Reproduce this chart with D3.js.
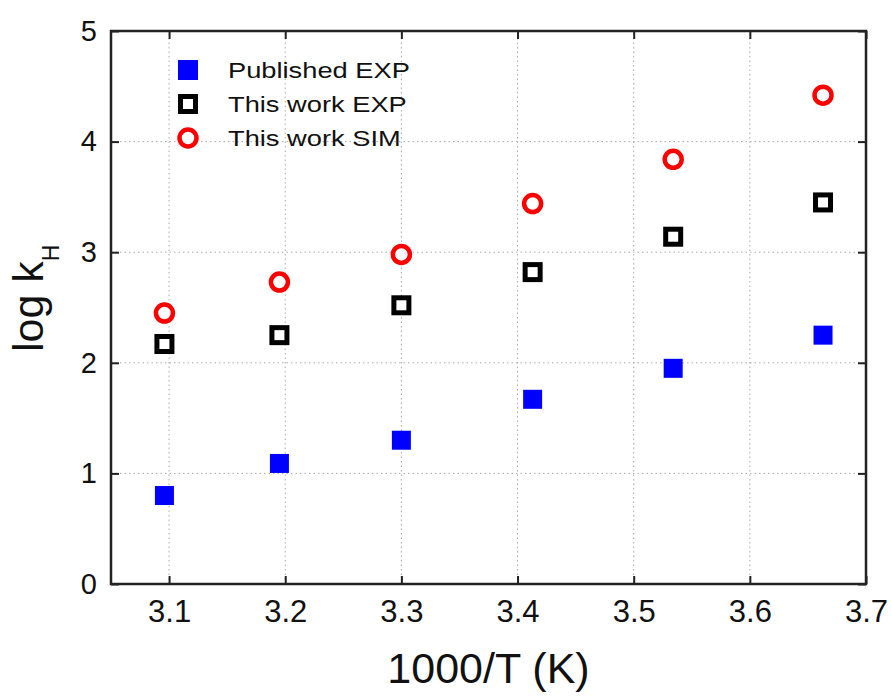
<!DOCTYPE html>
<meta charset="utf-8">
<style>
body { margin: 0; background: #fff; }
text { font-family: "Liberation Sans", Arial, sans-serif; fill: #111; }
.grid line { stroke: #aaa; stroke-width: 1px; stroke-dasharray: 1.5, 3; }
</style>
<body>
<script src="https://d3js.org/d3.v7.min.js"></script>
<script>
// 1000/T values
var invT = [3.096, 3.195, 3.300, 3.413, 3.534, 3.663];
var publishedExp = [0.80, 1.09, 1.30, 1.67, 1.95, 2.25];
var thisWorkExp = [2.17, 2.25, 2.52, 2.82, 3.14, 3.45];
var thisWorkSim = [2.45, 2.73, 2.98, 3.44, 3.84, 4.42];
var xTicks = [3.1, 3.2, 3.3, 3.4, 3.5, 3.6, 3.7];
var yTicks = [0, 1, 2, 3, 4, 5];
var seriesNames = ["Published EXP", "This work EXP", "This work SIM"];

var width = 891, height = 697;
var margin = {top: 31, right: 25, bottom: 113, left: 111};

var svg = d3.select("body").append("svg")
    .attr("width", width)
    .attr("height", height);

var x = d3.scaleLinear().domain([3.05, 3.7]).range([margin.left, width - margin.right]);
var y = d3.scaleLinear().domain([0, 5]).range([height - margin.bottom, margin.top]);

var x0 = x.range()[0], x1 = x.range()[1], y0 = y.range()[0], y1 = y.range()[1];

// grid
var grid = svg.append("g").attr("class", "grid");
grid.selectAll(".gx")
    .data(xTicks.filter(function(d) { return d < 3.7; }))
  .enter().append("line")
    .attr("x1", function(d) { return x(d); }).attr("x2", function(d) { return x(d); })
    .attr("y1", y0).attr("y2", y1);
grid.selectAll(".gy")
    .data(yTicks.filter(function(d) { return d > 0 && d < 5; }))
  .enter().append("line")
    .attr("y1", function(d) { return y(d); }).attr("y2", function(d) { return y(d); })
    .attr("x1", x0).attr("x2", x1);

// axes, ticks pointing inward on all four sides
var tick = 8;
var gx = svg.append("g").attr("transform", "translate(0," + y0 + ")")
    .call(d3.axisBottom(x).tickValues(xTicks).tickSize(-tick).tickPadding(16).tickFormat(d3.format(".1f")));
svg.append("g").attr("transform", "translate(0," + y1 + ")")
    .call(d3.axisTop(x).tickValues(xTicks).tickSize(-tick).tickFormat(""));
var gy = svg.append("g").attr("transform", "translate(" + x0 + ",0)")
    .call(d3.axisLeft(y).tickValues(yTicks).tickSize(-tick).tickPadding(14).tickFormat(d3.format("d")));
svg.append("g").attr("transform", "translate(" + x1 + ",0)")
    .call(d3.axisRight(y).tickValues(yTicks).tickSize(-tick).tickFormat(""));

svg.selectAll(".domain").remove();
svg.selectAll(".tick line").attr("stroke", "#222").attr("stroke-width", 2);
gx.selectAll(".tick text").style("font-size", "31px").attr("fill", "#111");
gy.selectAll(".tick text").style("font-size", "29px").attr("fill", "#111");

svg.append("rect")
    .attr("x", x0).attr("y", y1)
    .attr("width", x1 - x0).attr("height", y0 - y1)
    .attr("fill", "none").attr("stroke", "#222").attr("stroke-width", 2.5);

// axis titles
svg.append("text")
    .attr("x", (x0 + x1) / 2).attr("y", 683)
    .attr("text-anchor", "middle")
    .style("font-size", "43px")
    .text("1000/T (K)");

var yl = svg.append("text")
    .attr("transform", "translate(43,352)rotate(-90)")
    .attr("text-anchor", "start")
    .style("font-size", "43px");
yl.append("tspan").text("log k");
yl.append("tspan").attr("dy", 16).style("font-size", "23px").text("H");

// markers
var size = 19;
svg.append("g").selectAll("rect")
    .data(invT)
  .enter().append("rect")
    .attr("x", function(d) { return x(d) - size / 2; })
    .attr("y", function(d, i) { return y(publishedExp[i]) - size / 2; })
    .attr("width", size).attr("height", size)
    .attr("fill", "#0000ff");

svg.append("g").selectAll("rect")
    .data(invT)
  .enter().append("rect")
    .attr("x", function(d) { return x(d) - 7.5; })
    .attr("y", function(d, i) { return y(thisWorkExp[i]) - 7.5; })
    .attr("width", 15).attr("height", 15)
    .attr("fill", "#fff").attr("stroke", "#000").attr("stroke-width", 5);

svg.append("g").selectAll("circle")
    .data(invT)
  .enter().append("circle")
    .attr("cx", function(d) { return x(d); })
    .attr("cy", function(d, i) { return y(thisWorkSim[i]); })
    .attr("r", 8.5)
    .attr("fill", "#fff").attr("stroke", "#ff0000").attr("stroke-width", 4.5);

// legend
var lg = svg.append("g").attr("transform", "translate(188,70)");
var row = 34;
lg.append("rect").attr("x", -10).attr("y", -10).attr("width", 20).attr("height", 20).attr("fill", "#0000ff");
lg.append("rect").attr("x", -7.5).attr("y", row - 7.5).attr("width", 15).attr("height", 15)
    .attr("fill", "#fff").attr("stroke", "#000").attr("stroke-width", 5);
lg.append("circle").attr("cx", 0).attr("cy", 2 * row).attr("r", 8.5)
    .attr("fill", "#fff").attr("stroke", "#ff0000").attr("stroke-width", 4.5);
// the legend text in the original is a little stretched sideways
lg.selectAll(".lt")
    .data(seriesNames)
  .enter().append("text")
    .attr("transform", function(d, i) { return "translate(40," + (i * row) + ")scale(1.24,1)"; })
    .attr("dy", "0.36em")
    .style("font-size", "22px")
    .text(function(d) { return d; });
</script>
</body>
